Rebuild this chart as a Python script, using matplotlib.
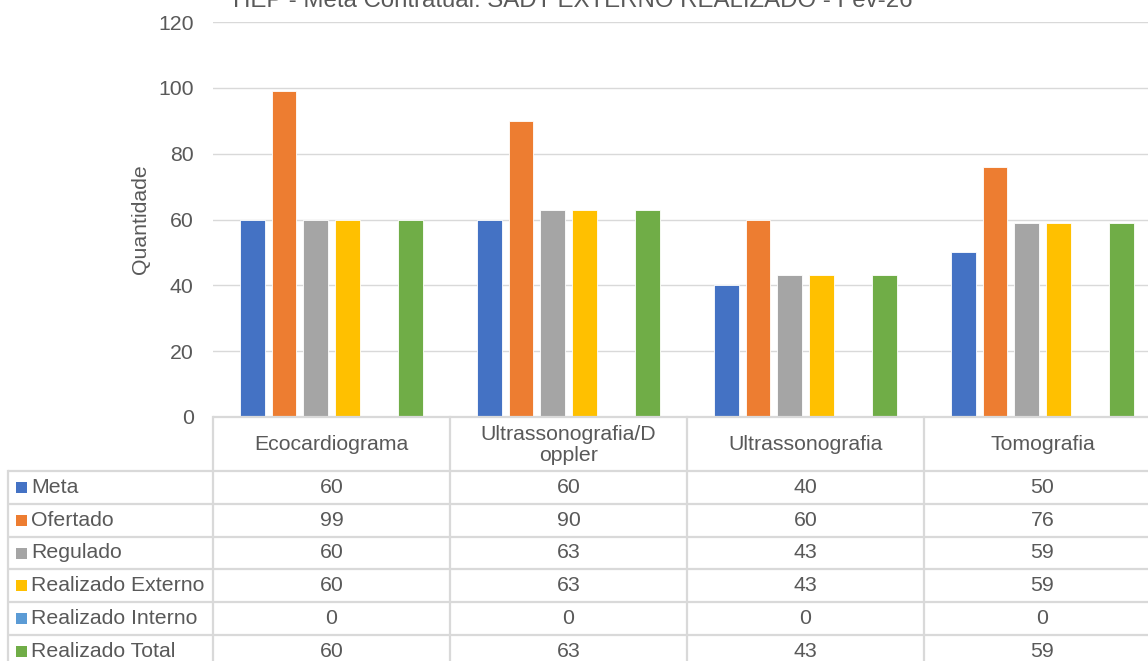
import matplotlib.pyplot as plt
import numpy as np

# %% data
categories = ["Ecocardiograma", "Ultrassonografia/D\noppler", "Ultrassonografia", "Tomografia"]
series = ["Meta", "Ofertado", "Regulado", "Realizado Externo", "Realizado Interno", "Realizado Total"]
meta = [60, 60, 40, 50]
ofertado = [99, 90, 60, 76]
regulado = [60, 63, 43, 59]
real_externo = [60, 63, 43, 59]
real_interno = [0, 0, 0, 0]
real_total = [60, 63, 43, 59]
yticks = [0, 20, 40, 60, 80, 100, 120]
title = "HEP - Meta Contratual: SADT EXTERNO REALIZADO - Fev-26"

values = [meta, ofertado, regulado, real_externo, real_interno, real_total]
colors = ["#4472C4", "#ED7D31", "#A5A5A5", "#FFC000", "#5B9BD5", "#70AD47"]

plt.rcParams["font.family"] = ["Liberation Sans", "DejaVu Sans"]
txtcol = "#595959"
gridcol = "#D9D9D9"
fs = 15.3

W, H = 1148, 661
fig = plt.figure(figsize=(W / 100, H / 100), dpi=100)

# bar axes (runs past the right edge, as in the reference)
ax = fig.add_axes([213 / W, (H - 417) / H, 948 / W, (417 - 22) / H])
x = np.arange(len(categories))
slot = 0.1335
bw = 0.105
for k, (name, vals) in enumerate(zip(series, values)):
    ax.bar(x + (k - 2.5) * slot, vals, width=bw, color=colors[k],
           edgecolor="white", linewidth=0.6, zorder=3)
ax.set_xlim(-0.5, len(categories) - 0.5)
ax.set_ylim(0, 120)
ax.set_yticks(yticks)
ax.set_yticklabels([str(v) for v in yticks], fontsize=fs, color=txtcol)
ax.tick_params(axis="y", length=0, pad=14)
ax.set_xticks([])
ax.grid(axis="y", color=gridcol, linewidth=1.0, zorder=0)
for s in ax.spines.values():
    s.set_visible(False)
ax.set_ylabel("Quantidade", fontsize=fs, color=txtcol, labelpad=6)

fig.text(573 / W, (H - 7) / H, title, ha="center", va="baseline",
         fontsize=17.3, color=txtcol)

# %% data table drawn underneath, in pixel coords of the figure
tab = fig.add_axes([0, 0, 1, 1], zorder=5)
tab.set_xlim(0, W)
tab.set_ylim(H, 0)
tab.axis("off")
tab.patch.set_alpha(0)

edges = [ax.transData.transform((i - 0.5, 0))[0] for i in range(len(categories) + 1)]
top = H - ax.transData.transform((0, 0))[1]
hdr_h = 54
row_h = 32.8
left = 8
lw = 1.6

nrows = len(series)
bottom = top + hdr_h + nrows * row_h
# horizontal lines
tab.plot([edges[0], W + 20], [top, top], color=gridcol, lw=lw, solid_capstyle="butt")
for r in range(nrows + 1):
    yy = top + hdr_h + r * row_h
    tab.plot([left, W + 20], [yy, yy], color=gridcol, lw=lw, solid_capstyle="butt")
# vertical lines
tab.plot([left, left], [top + hdr_h, bottom], color=gridcol, lw=lw)
for e in edges:
    tab.plot([e, e], [top, bottom], color=gridcol, lw=lw)

# header text
for i, cat in enumerate(categories):
    cx = (edges[i] + edges[i + 1]) / 2
    tab.text(cx, top + hdr_h / 2 + 1, cat, ha="center", va="center", fontsize=fs,
             color=txtcol, linespacing=1.15)

# rows
for r, (name, vals) in enumerate(zip(series, values)):
    cy = top + hdr_h + (r + 0.5) * row_h
    tab.add_patch(plt.Rectangle((16, cy - 5.5), 11, 11, color=colors[r], lw=0))
    tab.text(31, cy, name, ha="left", va="center", fontsize=fs, color=txtcol)
    for i, v in enumerate(vals):
        cx = (edges[i] + edges[i + 1]) / 2
        tab.text(cx, cy, str(v), ha="center", va="center", fontsize=fs, color=txtcol)

fig.savefig("out.png", dpi=100)
